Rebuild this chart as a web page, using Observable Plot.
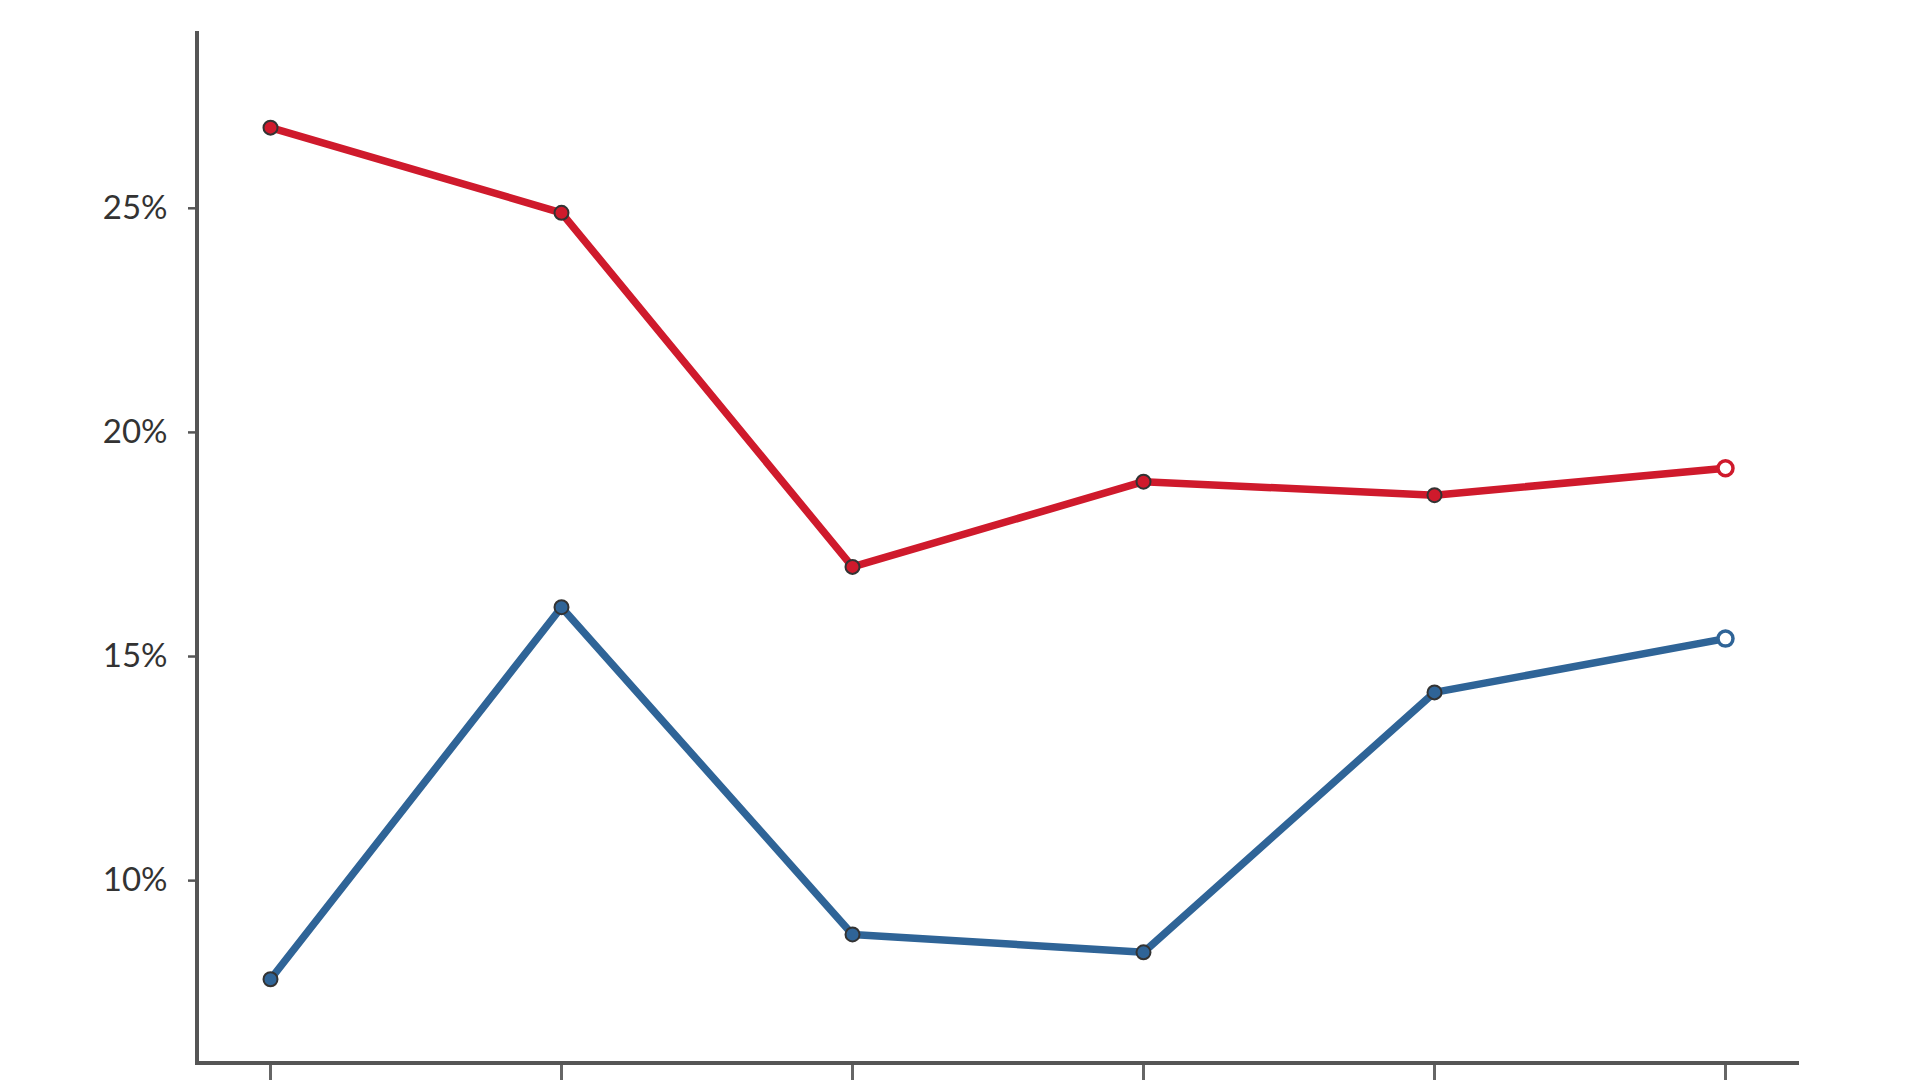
<!DOCTYPE html>
<html>
<head>
<meta charset="utf-8">
<script src="https://cdn.jsdelivr.net/npm/d3@7"></script>
<script src="https://cdn.jsdelivr.net/npm/@observablehq/plot@0.6"></script>
<style>
  html, body { margin: 0; padding: 0; background: #fff; overflow: hidden; }
  #chart svg { display: block; }
</style>
</head>
<body>
<div id="chart"></div>
<script>
// Categories (x positions; labels not visible in the reference)
const categories = ["1", "2", "3", "4", "5", "6"];
// Series values (percent)
const seriesA = [26.8, 24.9, 17.0, 18.9, 18.6, 19.2];
const seriesB = [7.8, 16.1, 8.8, 8.4, 14.2, 15.4];
// Y tick values
const yTicks = [10, 15, 20, 25];

const seriesNames = ["Series A", "Series B"];
const seriesColors = ["#cf1a2c", "#2f6497"];

const data = [];
categories.forEach((c, i) => {
  const last = i === categories.length - 1;
  data.push({cat: c, series: seriesNames[0], value: seriesA[i], last});
  data.push({cat: c, series: seriesNames[1], value: seriesB[i], last});
});

const axisColor = "#555";

// Axis lines drawn from the plot's own dimensions
function axisLines(index, scales, values, dimensions) {
  const {width, height, marginLeft, marginRight, marginTop, marginBottom} = dimensions;
  const g = d3.create("svg:g").attr("stroke", axisColor).attr("stroke-width", 4).attr("stroke-linecap", "square");
  g.append("line")
    .attr("x1", marginLeft).attr("x2", marginLeft)
    .attr("y1", marginTop).attr("y2", height - marginBottom);
  g.append("line")
    .attr("x1", marginLeft).attr("x2", width - marginRight)
    .attr("y1", height - marginBottom).attr("y2", height - marginBottom);
  return g.node();
}

const chart = Plot.plot({
  width: 1917,
  height: 1080,
  marginLeft: 197,
  marginRight: 120,
  marginTop: 33,
  marginBottom: 17,
  style: {fontFamily: "Lato, 'Open Sans', sans-serif", fontSize: "33px", color: "#333", background: "#fff"},
  x: {type: "point", domain: categories, padding: 0.245},
  y: {domain: [5.92, 28.9]},
  color: {domain: seriesNames, range: seriesColors},
  marks: [
    Plot.axisY({ticks: yTicks, tickFormat: d => d + "%", tickSize: 9, tickPadding: 21, stroke: axisColor, strokeWidth: 2.5, fill: "#333", fontSize: 33, label: null}),
    Plot.axisX({tickFormat: () => "", tickSize: 20, stroke: "#666", strokeWidth: 3, label: null}),
    axisLines,
    Plot.line(data, {x: "cat", y: "value", z: "series", stroke: "series", strokeWidth: 7.5, curve: "linear"}),
    Plot.dot(data.filter(d => !d.last), {x: "cat", y: "value", fill: "series", stroke: "#333", strokeWidth: 2, r: 7}),
    Plot.dot(data.filter(d => d.last), {x: "cat", y: "value", fill: "#fff", stroke: "series", strokeWidth: 3.5, r: 7.5})
  ]
});

document.getElementById("chart").appendChild(chart);
</script>
</body>
</html>
